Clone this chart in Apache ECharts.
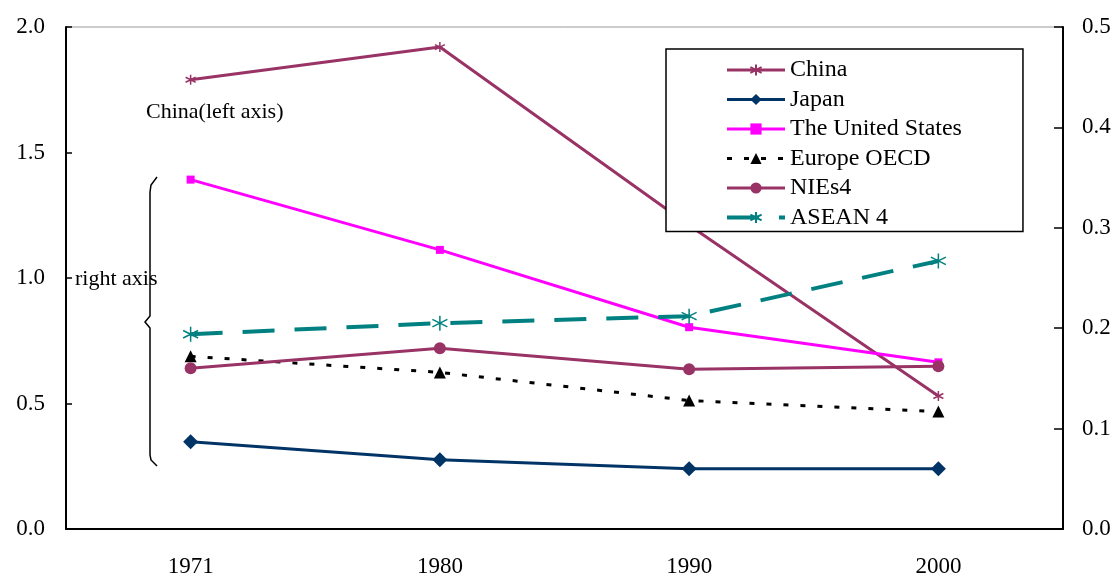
<!DOCTYPE html>
<html>
<head>
<meta charset="utf-8">
<script src="https://cdn.jsdelivr.net/npm/echarts@6/dist/echarts.min.js"></script>
<style>html,body{margin:0;padding:0;background:#fff}#c{width:1115px;height:578px}</style>
</head>
<body>
<div id="c"></div>
<script>
var years = ['1971', '1980', '1990', '2000'];
var china = [1.79, 1.92, 1.21, 0.53];        // left axis
var japan = [0.087, 0.069, 0.060, 0.060];    // right axis
var usa = [0.348, 0.278, 0.201, 0.166];
var europe = [0.172, 0.156, 0.128, 0.117];
var nies4 = [0.160, 0.180, 0.159, 0.162];
var asean4 = [0.194, 0.205, 0.212, 0.267];
var leftTicks = [0, 0.5, 1.0, 1.5, 2.0];
var rightTicks = [0, 0.1, 0.2, 0.3, 0.4, 0.5];

var FONT = '"Liberation Serif", "Times New Roman", serif';
var asterisk = 'path://M0,-10L0,10M-8.66,-5L8.66,5M-8.66,5L8.66,-5';

var chart = echarts.init(document.getElementById('c'));
chart.setOption({
  animation: false,
  backgroundColor: '#fff',
  grid: { left: 66, right: 52, top: 27, bottom: 49, show: true, borderColor: '#999', borderWidth: 1 },
  legend: {
    orient: 'vertical', left: 666, top: 49,
    padding: [9, 61, 2, 59],
    itemWidth: 58, itemHeight: 14, itemGap: 5.5,
    borderColor: '#000', borderWidth: 1.5, backgroundColor: '#fff',
    lineStyle: { width: 'inherit' },
    textStyle: { fontFamily: FONT, fontSize: 24, color: '#000', lineHeight: 24 },
    data: ['China', 'Japan', 'The United States', 'Europe OECD', 'NIEs4', 'ASEAN 4']
  },
  xAxis: {
    type: 'category', data: years, boundaryGap: true,
    axisLine: { lineStyle: { color: '#000', width: 2 } },
    axisTick: { inside: true, length: 6, lineStyle: { color: '#000', width: 1.5 } },
    axisLabel: { fontFamily: FONT, fontSize: 23, color: '#000', margin: 26 },
    splitLine: { show: false }
  },
  yAxis: [
    {
      type: 'value', min: leftTicks[0], max: leftTicks[leftTicks.length - 1], interval: 0.5,
      axisLine: { show: true, lineStyle: { color: '#000', width: 2 } },
      axisTick: { show: true, inside: true, length: 6, lineStyle: { color: '#000', width: 1.5 } },
      axisLabel: { fontFamily: FONT, fontSize: 23, color: '#000', margin: 21, formatter: function (v) { return v.toFixed(1); } },
      splitLine: { show: false }
    },
    {
      type: 'value', position: 'right', min: rightTicks[0], max: rightTicks[rightTicks.length - 1], interval: 0.1,
      axisLine: { show: true, lineStyle: { color: '#000', width: 2 } },
      axisTick: { show: true, inside: true, length: 9, lineStyle: { color: '#000', width: 1.5 } },
      axisLabel: { fontFamily: FONT, fontSize: 23, color: '#000', margin: 19, formatter: function (v) { return v.toFixed(1); } },
      splitLine: { show: false }
    }
  ],
  series: [
    { name: 'China', type: 'line', yAxisIndex: 0, data: china,
      symbol: asterisk, symbolSize: 10, showAllSymbol: true,
      lineStyle: { color: '#993366', width: 3 },
      itemStyle: { color: '#993366', borderColor: '#993366', borderWidth: 1.5 } },
    { name: 'Japan', type: 'line', yAxisIndex: 1, data: japan,
      symbol: 'diamond', symbolSize: 15,
      lineStyle: { color: '#003366', width: 3 },
      itemStyle: { color: '#003366' } },
    { name: 'The United States', type: 'line', yAxisIndex: 1, data: usa,
      symbol: 'rect', symbolSize: 8,
      lineStyle: { color: '#FF00FF', width: 3 },
      itemStyle: { color: '#FF00FF' } },
    { name: 'Europe OECD', type: 'line', yAxisIndex: 1, data: europe,
      symbol: 'triangle', symbolSize: 12,
      lineStyle: { color: '#000', width: 3, type: [5, 12] },
      itemStyle: { color: '#000' } },
    { name: 'NIEs4', type: 'line', yAxisIndex: 1, data: nies4,
      symbol: 'circle', symbolSize: 12,
      lineStyle: { color: '#993366', width: 3 },
      itemStyle: { color: '#993366' } },
    { name: 'ASEAN 4', type: 'line', yAxisIndex: 1, data: asean4,
      symbol: asterisk, symbolSize: 15,
      lineStyle: { color: '#008080', width: 4, type: [32, 20] },
      itemStyle: { color: '#008080', borderColor: '#008080', borderWidth: 1.5 } }
  ],
  graphic: [
    { type: 'text', left: 146, top: 101, z: 10,
      style: { text: 'China(left axis)', font: '22px ' + FONT, fill: '#000' } },
    { type: 'text', left: 75, top: 268, z: 10,
      style: { text: 'right axis', font: '22px ' + FONT, fill: '#000' } },
    { type: 'polyline', z: 10,
      shape: { points: [[157, 177], [151, 185], [150, 192], [150, 316], [145, 322], [150, 328], [150, 455], [151, 460], [157, 466]] },
      style: { stroke: '#000', lineWidth: 1.5, fill: null } }
  ]
});
</script>
</body>
</html>
